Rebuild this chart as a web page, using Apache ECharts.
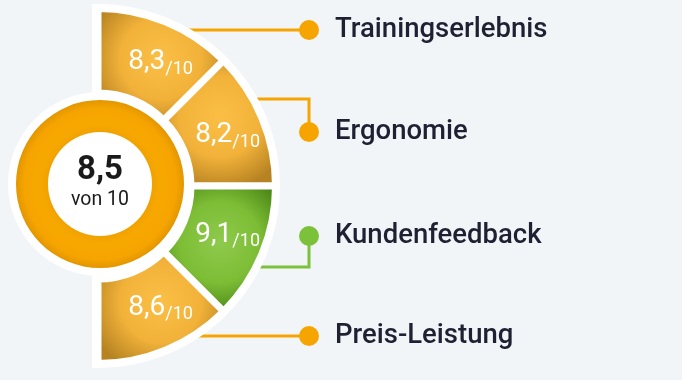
<!DOCTYPE html>
<html>
<head>
<meta charset="utf-8">
<script src="https://cdn.jsdelivr.net/npm/echarts@6/dist/echarts.min.js"></script>
<style>
  html, body { margin: 0; padding: 0; background: #F2F5F8; }
  #chart { width: 682px; height: 380px; }
</style>
</head>
<body>
<div id="chart"></div>
<script>
// ---- data ----
const categories = ['Trainingserlebnis', 'Ergonomie', 'Kundenfeedback', 'Preis-Leistung'];
const scores = [8.3, 8.2, 9.1, 8.6];
const maxScore = 10;
const overallScore = 8.5;
const highlight = [false, false, true, false];

// ---- layout / style ----
const FONT = 'Roboto, "Noto Sans", sans-serif';
const SEC_CX = 98, SEC_CY = 186;
const DON_CX = 100, DON_CY = 184;
const lineY = [30, 99, 267, 336];
const labelY = [30, 132, 236, 336];
const DOT_X = 309, TEXT_X = 335;
const ORANGE = '#F6A500', GREEN = '#7CC13A';

const fmt = v => v.toFixed(1).replace('.', ',');

function sectorGradient(hl) {
  return hl
    ? { type: 'radial', x: 0.5, y: 0.45, r: 0.62, colorStops: [
        { offset: 0, color: '#8ECA4C' }, { offset: 0.55, color: '#7DBD35' }, { offset: 1, color: '#4A8516' } ] }
    : { type: 'radial', x: 0.5, y: 0.45, r: 0.62, colorStops: [
        { offset: 0, color: '#FBBF46' }, { offset: 0.55, color: '#F2B23A' }, { offset: 1, color: '#B78322' } ] };
}

const sectorData = categories.map((c, i) => ({
  name: c,
  value: 1,               // equal-angle sectors; score shown as label
  score: scores[i],
  itemStyle: { color: sectorGradient(highlight[i]) }
}));

const labelData = categories.map((c, i) => ({ name: c, value: 1, score: scores[i] }));

const graphics = [];
categories.forEach((c, i) => {
  const col = highlight[i] ? GREEN : ORANGE;
  graphics.push({
    type: 'polyline', z: 0,
    shape: { points: [[SEC_CX, lineY[i]], [DOT_X, lineY[i]], [DOT_X, labelY[i]]] },
    style: { stroke: col, lineWidth: 3, fill: null }
  });
  graphics.push({
    type: 'circle', z: 0,
    shape: { cx: DOT_X, cy: labelY[i], r: 10 },
    style: { fill: col }
  });
  graphics.push({
    type: 'text', z: 0, x: TEXT_X, y: labelY[i],
    style: { text: c, fill: '#1F2133', font: '500 27.5px ' + FONT, textVerticalAlign: 'middle', textAlign: 'left' }
  });
});

const chart = echarts.init(document.getElementById('chart'), null, { renderer: 'canvas' });
chart.setOption({
  backgroundColor: '#F2F5F8',
  animation: false,
  graphic: { elements: graphics },
  series: [
    { // white background half disc
      type: 'pie', z: 2, silent: true,
      center: [SEC_CX, SEC_CY], radius: [0, 176],
      startAngle: 90, endAngle: -90,
      label: { show: false }, labelLine: { show: false },
      itemStyle: { color: '#FFFFFF', borderColor: '#FFFFFF', borderWidth: 12, borderJoin: 'miter' },
      data: [{ value: 1 }]
    },
    { // score sectors
      type: 'pie', z: 3, silent: true,
      center: [SEC_CX, SEC_CY], radius: [93, 177.5],
      startAngle: 90, endAngle: -90,
      itemStyle: { borderColor: '#FFFFFF', borderWidth: 7, borderJoin: 'miter' },
      label: { show: false }, labelLine: { show: false },
      data: sectorData
    },
    { // score labels (transparent carrier)
      type: 'pie', z: 6, silent: true,
      center: [100, 185], radius: [92, 176],
      startAngle: 85, endAngle: -85,
      avoidLabelOverlap: false,
      itemStyle: { color: 'rgba(0,0,0,0)' },
      label: {
        show: true, position: 'inside',
        formatter: p => '{a|' + fmt(p.data.score) + '}{b|/' + maxScore + '}',
        rich: {
          a: { fontFamily: FONT, fontSize: 28, fontWeight: 'normal', color: '#FFFFFF', lineHeight: 32 },
          b: { fontFamily: FONT, fontSize: 18, fontWeight: 'normal', color: '#FFFFFF', lineHeight: 10, verticalAlign: 'bottom' }
        }
      },
      labelLine: { show: false },
      data: labelData
    },
    { // white disc behind donut
      type: 'pie', z: 4, silent: true,
      center: [DON_CX, DON_CY], radius: [0, 92],
      label: { show: false }, labelLine: { show: false },
      itemStyle: { color: '#FFFFFF' },
      data: [{ value: 1 }]
    },
    { // overall donut ring
      type: 'pie', z: 5, silent: true,
      center: [DON_CX, DON_CY], radius: [52, 84],
      labelLine: { show: false },
      itemStyle: { color: { type: 'radial', x: 0.5, y: 0.5, r: 0.5, colorStops: [
        { offset: 0.62, color: '#F2A200' }, { offset: 0.72, color: '#F7A800' },
        { offset: 0.9, color: '#F6A500' }, { offset: 1, color: '#E39600' } ] } },
      label: {
        show: true, position: 'center',
        formatter: () => '{v|' + fmt(overallScore) + '}\n{s|von ' + maxScore + '}',
        rich: {
          v: { fontFamily: FONT, fontSize: 33, fontWeight: 'bold', color: '#1A1A1A', lineHeight: 32 },
          s: { fontFamily: FONT, fontSize: 19.5, color: '#1A1A1A', lineHeight: 26 }
        }
      },
      data: [{ value: overallScore }]
    }
  ]
});
</script>
</body>
</html>
